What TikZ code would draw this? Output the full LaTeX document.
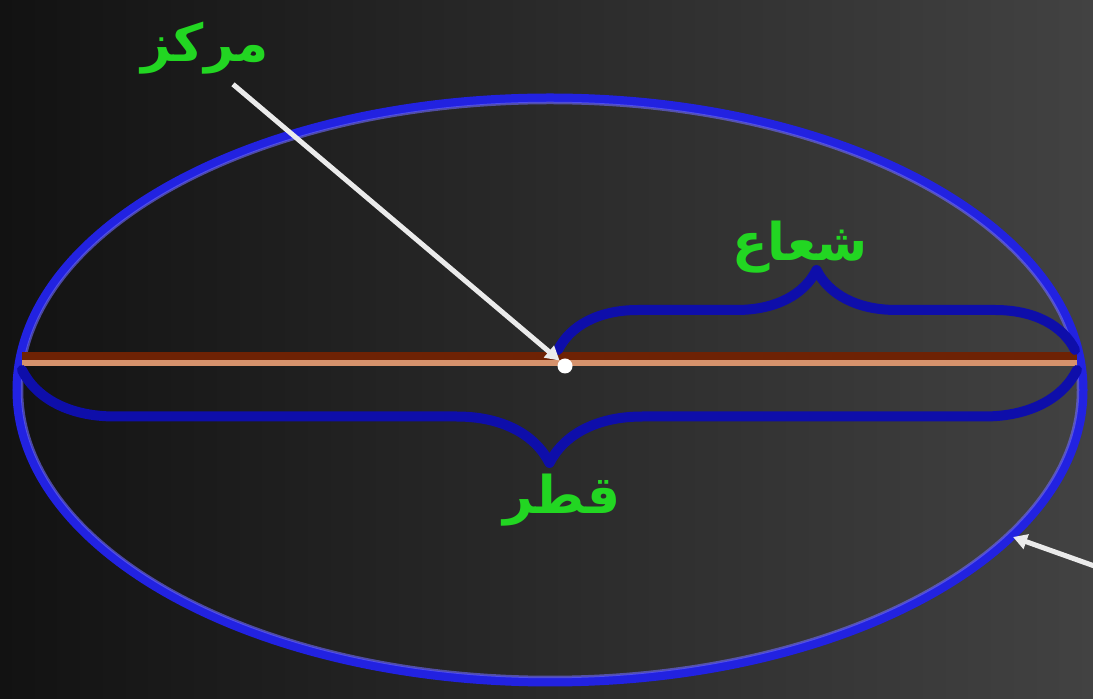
\documentclass[tikz,border=0pt]{standalone}
\usepackage{fontspec}
\usetikzlibrary{arrows.meta,decorations.pathreplacing}
\newfontfamily\arabicfont[Script=Arabic]{DejaVu Sans}
\TeXXeTstate=1
\definecolor{bgL}{RGB}{18,18,18}
\definecolor{bgR}{RGB}{66,66,66}
\definecolor{orbitC}{RGB}{34,34,225}
\definecolor{glowC}{RGB}{110,105,250}
\definecolor{braceC}{RGB}{14,14,170}
\definecolor{axisD}{RGB}{110,34,4}
\definecolor{axisL}{RGB}{214,146,108}
\definecolor{labelC}{RGB}{34,214,34}

\begin{document}
\begin{tikzpicture}[
  x=1pt, y=1pt,  % image pixel scale (1093x699); y pre-flipped
  orbit/.style={line width=9pt, draw=orbitC},
  orbitglow/.style={line width=2.5pt, draw=glowC, opacity=0.6},
  axisdark/.style={line width=8pt, draw=axisD},
  axislight/.style={line width=6pt, draw=axisL},
  bracestroke/.style={line width=10pt, draw=braceC, line cap=round, line join=round,
    decorate, decoration={brace, amplitude=#1}},
  pointer/.style={line width=5pt, draw=white!92!black, -{Triangle[length=14pt,width=15pt]}},
  cdot/.style={circle, fill=white, inner sep=0pt, minimum size=15pt},
  arlabel/.style={text=labelC, font=\arabicfont\bfseries\fontsize{52}{60}\selectfont, inner sep=0pt}
]

% ---------- background ----------
\clip (0,0) rectangle (1093,699);
\shade[left color=bgL, right color=bgR] (0,0) rectangle (1093,699);

% ---------- ellipse and major axis ----------
\coordinate (ctr) at (550,309);
\draw[orbit] (ctr) ellipse [x radius=533pt, y radius=292pt];
\draw[orbitglow] (ctr) ellipse [x radius=528pt, y radius=287pt];

\coordinate (axw) at (22,343);
\coordinate (axe) at (1077,343);
\draw[axisdark] (axw) -- (axe);
\draw[axislight] ([yshift=-7pt]axw) -- ([yshift=-7pt]axe);

% ---------- braces: radius above, diameter below ----------
\coordinate (rw) at (558,349);
\coordinate (re) at (1075,349);
\draw[bracestroke=80pt] (rw) -- (re);

\coordinate (dw) at (22,329);
\coordinate (de) at (1077,329);
\draw[bracestroke=93pt] (de) -- (dw);

% ---------- labels ----------
\node[arlabel] (markaz) at (205,651) {\beginR مرکز\endR};
\node[arlabel] (shoa) at (800,452) {\beginR شعاع\endR};
\node[arlabel] (qotr) at (562,199) {\beginR قطر\endR};

% ---------- centre point and pointers ----------
\node[cdot] (ctrdot) at (565,333) {};
\draw[pointer] ([xshift=28pt,yshift=-10pt]markaz.south) -- (ctrdot.north west);

\coordinate (rimtail) at (1100,131);
\coordinate (rim) at (1013,162);
\draw[pointer] (rimtail) -- (rim);

\end{tikzpicture}
\end{document}
